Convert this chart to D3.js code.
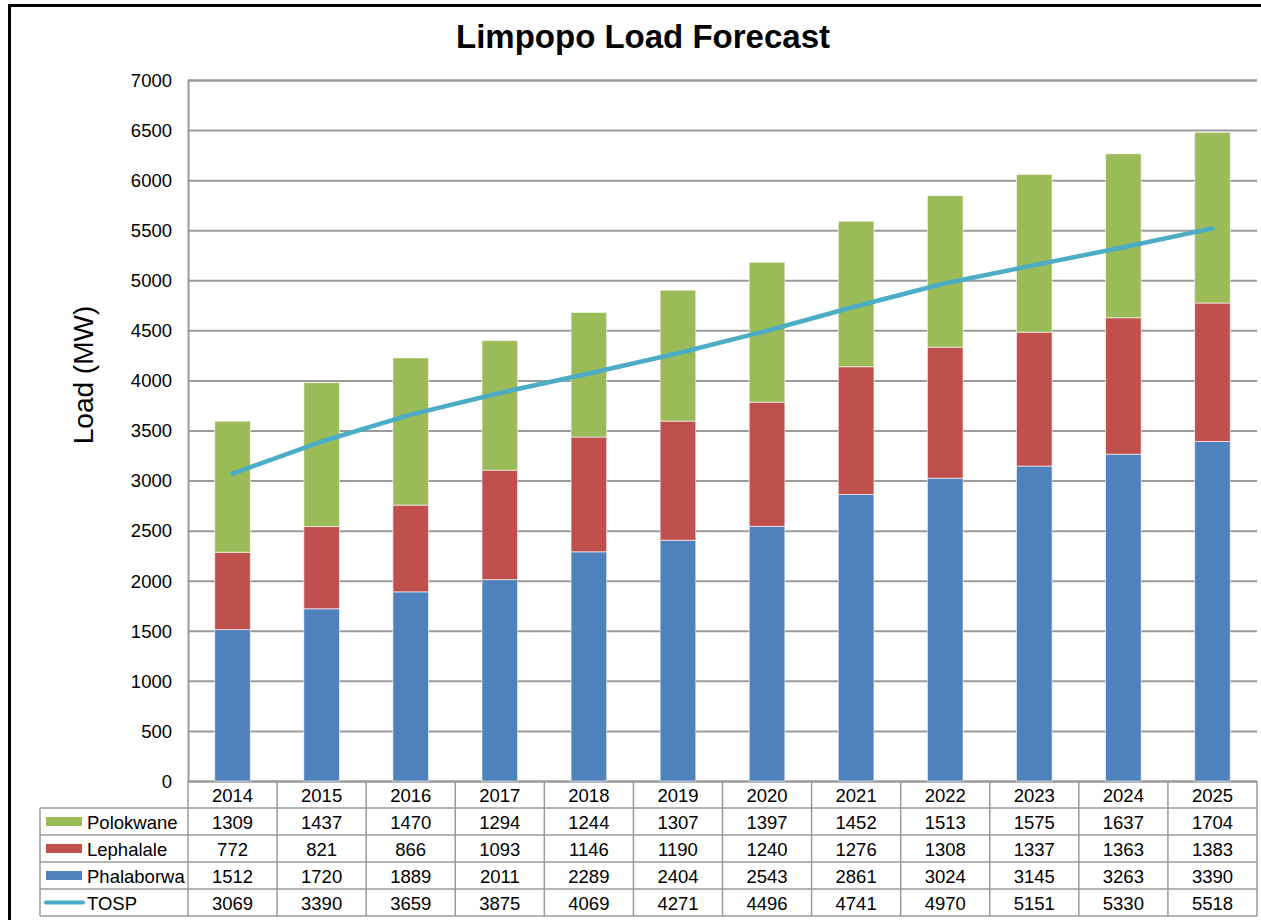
<!DOCTYPE html>
<html>
<head>
<meta charset="utf-8">
<script src="https://cdn.jsdelivr.net/npm/d3@7"></script>
<style>
  html, body { margin: 0; padding: 0; background: #fff; }
  svg { display: block; font-family: "Liberation Sans", Arial, Helvetica, sans-serif; }
</style>
</head>
<body>
<svg id="chart" width="1261" height="920"></svg>
<script>
// Forecast years and loads (MW) per substation area
const years = ["2014","2015","2016","2017","2018","2019","2020","2021","2022","2023","2024","2025"];
const polokwane  = [1309, 1437, 1470, 1294, 1244, 1307, 1397, 1452, 1513, 1575, 1637, 1704];
const lephalale  = [772, 821, 866, 1093, 1146, 1190, 1240, 1276, 1308, 1337, 1363, 1383];
const phalaborwa = [1512, 1720, 1889, 2011, 2289, 2404, 2543, 2861, 3024, 3145, 3263, 3390];
const tosp       = [3069, 3390, 3659, 3875, 4069, 4271, 4496, 4741, 4970, 5151, 5330, 5518];
const yTicks = [0, 500, 1000, 1500, 2000, 2500, 3000, 3500, 4000, 4500, 5000, 5500, 6000, 6500, 7000];

const svg = d3.select("#chart");
const W = 1261, H = 920;
const plot = { left: 188, right: 1257, top: 80, bottom: 781 };
const gridColor = "#9a9a9a";
const fontSize = 18.5;

// Outer frame
svg.append("rect")
  .attr("x", 9.5).attr("y", 5.5)
  .attr("width", W + 20).attr("height", H + 20)
  .attr("fill", "none").attr("stroke", "#000").attr("stroke-width", 3);

// Title
svg.append("text")
  .attr("x", 643).attr("y", 48)
  .attr("text-anchor", "middle")
  .attr("font-size", 33).attr("font-weight", "bold")
  .text("Limpopo Load Forecast");

const x = d3.scaleBand().domain(years).range([plot.left, plot.right]).paddingInner(0.6).paddingOuter(0.3);
const xCell = d3.scaleBand().domain(years).range([plot.left, plot.right]);
const y = d3.scaleLinear().domain([0, 7000]).range([plot.bottom, plot.top]);

// Gridlines and value axis
const yAxis = d3.axisLeft(y).tickValues(yTicks).tickFormat(d3.format("d"))
  .tickSize(-(plot.right - plot.left)).tickPadding(16);
const gy = svg.append("g").attr("transform", `translate(${plot.left},0)`).call(yAxis);
gy.select(".domain").attr("stroke", gridColor).attr("stroke-width", 2);
gy.selectAll(".tick line").attr("stroke", gridColor).attr("stroke-width", 2);
gy.selectAll(".tick text").attr("font-size", fontSize).attr("fill", "#000")
  .attr("font-family", "'Liberation Sans', Arial, sans-serif").attr("dy", "0.34em");

// Axis title
svg.append("text")
  .attr("transform", "translate(93,375) rotate(-90)")
  .attr("text-anchor", "middle")
  .attr("font-size", 28)
  .text("Load (MW)");

// Stacked bars
const rows = years.map((yr, i) => ({ year: yr, Phalaborwa: phalaborwa[i], Lephalale: lephalale[i], Polokwane: polokwane[i] }));
const keys = ["Phalaborwa", "Lephalale", "Polokwane"];
const colors = { Phalaborwa: "#4f81bd", Lephalale: "#c0504d", Polokwane: "#9bbb59", TOSP: "#4bacc6" };
const stacked = d3.stack().keys(keys)(rows);

svg.append("g").selectAll("g").data(stacked).join("g")
  .attr("fill", d => colors[d.key])
  .selectAll("rect").data(d => d).join("rect")
  .attr("x", d => x(d.data.year))
  .attr("width", x.bandwidth())
  .attr("y", d => y(d[1]))
  .attr("height", d => y(d[0]) - y(d[1]))
  .attr("stroke", "rgba(255,255,255,0.6)").attr("stroke-width", 1);

// TOSP line
const line = d3.line()
  .x((d, i) => xCell(years[i]) + xCell.bandwidth() / 2)
  .y(d => y(d));
svg.append("path")
  .datum(tosp)
  .attr("d", line)
  .attr("fill", "none")
  .attr("stroke", colors.TOSP)
  .attr("stroke-width", 4.5)
  .attr("stroke-linecap", "round")
  .attr("stroke-linejoin", "round");

// Data table
const tableLeft = 40;
const rowH = 27;
const headTop = plot.bottom;
const series = [
  { name: "Polokwane", values: polokwane, type: "bar" },
  { name: "Lephalale", values: lephalale, type: "bar" },
  { name: "Phalaborwa", values: phalaborwa, type: "bar" },
  { name: "TOSP", values: tosp, type: "line" }
];
const table = svg.append("g");
const lineAttrs = s => s.attr("stroke", gridColor).attr("stroke-width", 1.5);

// Header row with years
years.forEach(yr => {
  table.append("text")
    .attr("x", xCell(yr) + xCell.bandwidth() / 2)
    .attr("y", headTop + rowH / 2 + 1)
    .attr("dy", "0.35em")
    .attr("text-anchor", "middle")
    .attr("font-size", fontSize)
    .text(yr);
});

series.forEach((s, r) => {
  const top = headTop + rowH * (r + 1);
  const cy = top + rowH / 2;
  if (s.type === "bar") {
    table.append("rect")
      .attr("x", 46).attr("y", cy - 4.5)
      .attr("width", 36).attr("height", 9)
      .attr("fill", colors[s.name]);
  } else {
    table.append("line")
      .attr("x1", 46).attr("x2", 83).attr("y1", cy).attr("y2", cy)
      .attr("stroke", colors.TOSP).attr("stroke-width", 4).attr("stroke-linecap", "round");
  }
  table.append("text")
    .attr("x", 87).attr("y", cy + 1).attr("dy", "0.35em")
    .attr("font-size", fontSize)
    .text(s.name);
  s.values.forEach((v, i) => {
    table.append("text")
      .attr("x", xCell(years[i]) + xCell.bandwidth() / 2)
      .attr("y", cy + 1).attr("dy", "0.35em")
      .attr("text-anchor", "middle")
      .attr("font-size", fontSize)
      .text(v);
  });
});

// Table grid
const tableBottom = headTop + rowH * (series.length + 1);
for (let r = 1; r <= series.length + 1; r++) {
  const yy = headTop + rowH * r;
  table.append("line").attr("x1", tableLeft).attr("x2", plot.right).attr("y1", yy).attr("y2", yy).call(lineAttrs);
}
years.forEach(yr => {
  table.append("line").attr("x1", xCell(yr)).attr("x2", xCell(yr))
    .attr("y1", headTop).attr("y2", tableBottom).call(lineAttrs);
});
table.append("line").attr("x1", plot.right).attr("x2", plot.right)
  .attr("y1", headTop).attr("y2", tableBottom).call(lineAttrs);
table.append("line").attr("x1", tableLeft).attr("x2", tableLeft)
  .attr("y1", headTop + rowH).attr("y2", tableBottom).call(lineAttrs);
</script>
</body>
</html>
